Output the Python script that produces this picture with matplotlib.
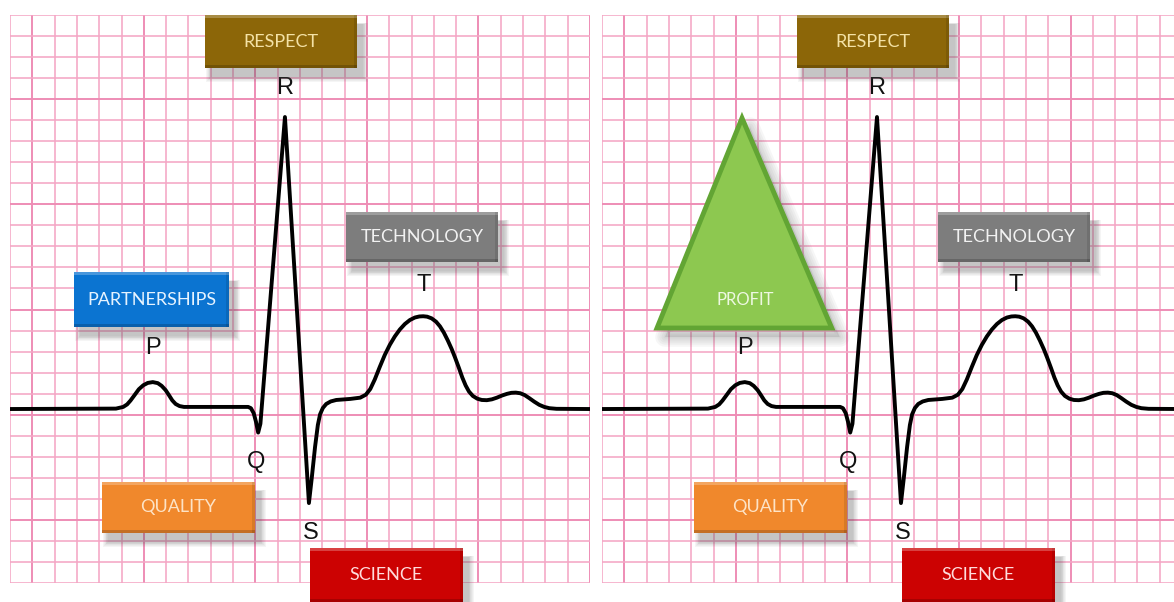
import matplotlib
matplotlib.use("Agg")
import matplotlib.pyplot as plt
from matplotlib.patches import Rectangle, Polygon
import numpy as np

# one heartbeat (time in s, amplitude in mV)
ecg_t = [0.000, 0.190, 0.203, 0.210, 0.216, 0.223, 0.231, 0.239, 0.247, 0.256,
         0.265, 0.272, 0.279, 0.285, 0.291, 0.297, 0.304, 0.312, 0.427, 0.432,
         0.437, 0.441, 0.445, 0.449, 0.493, 0.536, 0.541, 0.547, 0.552, 0.556,
         0.561, 0.567, 0.575, 0.585, 0.610, 0.628, 0.638, 0.646, 0.654, 0.663,
         0.672, 0.681, 0.690, 0.699, 0.708, 0.717, 0.726, 0.734, 0.741, 0.748,
         0.756, 0.764, 0.771, 0.778, 0.785, 0.792, 0.798, 0.805, 0.811, 0.817,
         0.823, 0.830, 0.838, 0.846, 0.855, 0.864, 0.873, 0.882, 0.891, 0.899,
         0.907, 0.915, 0.923, 0.931, 0.940, 0.949, 0.958, 0.967, 0.980, 1.040]
ecg_mv = [0.000, 0.002, 0.010, 0.022, 0.040, 0.065, 0.094, 0.113, 0.124, 0.128,
          0.123, 0.110, 0.090, 0.066, 0.041, 0.024, 0.014, 0.010, 0.010, 0.004,
          -0.020, -0.060, -0.112, -0.070, 1.388, -0.447, -0.330, -0.180, -0.076, -0.025,
          0.005, 0.024, 0.036, 0.043, 0.048, 0.054, 0.068, 0.095, 0.140, 0.200,
          0.257, 0.305, 0.345, 0.378, 0.404, 0.423, 0.435, 0.440, 0.441, 0.439,
          0.431, 0.415, 0.393, 0.363, 0.326, 0.285, 0.245, 0.195, 0.150, 0.112,
          0.083, 0.062, 0.049, 0.043, 0.042, 0.046, 0.054, 0.064, 0.072, 0.077,
          0.078, 0.075, 0.066, 0.052, 0.035, 0.020, 0.010, 0.004, 0.001, 0.000]

wave_letters = ["P", "Q", "R", "S", "T"]
letter_t = [0.256, 0.441, 0.493, 0.540, 0.742]
letter_mv = [0.290, -0.252, 1.526, -0.589, 0.589]

left_labels = ["RESPECT", "TECHNOLOGY", "PARTNERSHIPS", "QUALITY", "SCIENCE"]
right_labels = ["RESPECT", "TECHNOLOGY", "QUALITY", "SCIENCE"]
triangle_label = "PROFIT"

# layout of the label boxes (centre t, centre mV)
box_pos = {
    "RESPECT": (0.486, 1.747),
    "TECHNOLOGY": (0.739, 0.818),
    "PARTNERSHIPS": (0.254, 0.520),
    "QUALITY": (0.302, -0.468),
    "SCIENCE": (0.675, -0.789),
}
box_size = {
    "RESPECT": (0.2725, 0.252),
    "TECHNOLOGY": (0.2725, 0.238),
    "PARTNERSHIPS": (0.278, 0.261),
    "QUALITY": (0.274, 0.242),
    "SCIENCE": (0.274, 0.257),
}
box_colors = {
    "RESPECT": ("#8c6608", "#f4e2a6"),
    "TECHNOLOGY": ("#7d7d7d", "#f2f2f2"),
    "PARTNERSHIPS": ("#0b74d1", "#e6f3ff"),
    "QUALITY": ("#f0882c", "#fde3c6"),
    "SCIENCE": ("#cc0202", "#ffdcdc"),
}

PX_T = 0.001793   # one pixel in seconds
PX_MV = 0.004753  # one pixel in mV
Y0, Y1 = -0.827, 1.873

fig = plt.figure(figsize=(11.74, 6.02), dpi=100)
fig.patch.set_facecolor("white")
ax_left = fig.add_axes([10 / 1174, 19 / 602, 580 / 1174, 568 / 602])
ax_right = fig.add_axes([602 / 1174, 19 / 602, 572 / 1174, 568 / 602])


def draw_grid(ax, x1):
    ax.set_xlim(0, x1)
    ax.set_ylim(Y0, Y1)
    ax.axis("off")
    for i, x in enumerate(np.arange(0, x1 + 1e-6, 0.04)):
        major = i % 5 == 1
        ax.axvline(x, color="#ee8db5" if major else "#f4a6c5",
                   lw=1.4 if major else 1.15, zorder=1)
    for i, y in enumerate(np.arange(Y0, Y1 + 1e-6, 0.1)):
        major = i % 5 == 3
        ax.axhline(y, color="#ee8db5" if major else "#f4a6c5",
                   lw=1.4 if major else 1.15, zorder=1)


def shadow(ax, xy, w, h):
    for k in range(7):
        grow = k * 1.6
        ax.add_patch(Rectangle((xy[0] + (6 - grow / 2) * PX_T, xy[1] - (9 + grow / 2) * PX_MV),
                               w + grow * PX_T, h + grow * PX_MV * 0.6,
                               facecolor="#555555", alpha=0.055, lw=0,
                               zorder=4, clip_on=False))


def label_box(ax, name):
    cx, cy = box_pos[name]
    w, h = box_size[name]
    face, txt = box_colors[name]
    xy = (cx - w / 2, cy - h / 2)
    shadow(ax, xy, w, h)
    ax.add_patch(Rectangle(xy, w, h, facecolor=face, lw=0, zorder=5, clip_on=False))
    # bevel: light top edge, dark bottom edge
    ax.add_patch(Rectangle((xy[0], xy[1] + h - 3 * PX_MV), w, 3 * PX_MV,
                           facecolor="white", alpha=0.25, lw=0, zorder=6, clip_on=False))
    ax.add_patch(Rectangle(xy, w, 3 * PX_MV, facecolor="black", alpha=0.18,
                           lw=0, zorder=6, clip_on=False))
    ax.add_patch(Rectangle((xy[0] + w - 3 * PX_T, xy[1]), 3 * PX_T, h,
                           facecolor="black", alpha=0.10, lw=0, zorder=6, clip_on=False))
    ax.text(cx, cy, name, ha="center", va="center", color=txt,
            fontsize=13, family="Lato", zorder=7, clip_on=False)


def draw_panel(ax, x1, labels, with_triangle):
    draw_grid(ax, x1)
    ax.plot(ecg_t, ecg_mv, color="black", lw=2.8, zorder=3,
            solid_joinstyle="round", solid_capstyle="butt")
    for s, t, v in zip(wave_letters, letter_t, letter_mv):
        ax.text(t, v, s, ha="center", va="center", fontsize=17,
                family="Liberation Sans", color="#111111", zorder=3)
    for name in labels:
        label_box(ax, name)
    if with_triangle:
        tri = [(0.251, 1.383), (0.0986, 0.385), (0.412, 0.385)]
        shad = [(x + 8 * PX_T, y - 9 * PX_MV) for x, y in tri]
        for k in range(5):
            ax.add_patch(Polygon(shad, closed=True, facecolor="none",
                                 edgecolor="#555555", lw=2 + k * 3, alpha=0.05,
                                 zorder=4, joinstyle="round"))
        ax.add_patch(Polygon(shad, closed=True, facecolor="#555555", alpha=0.15,
                             lw=0, zorder=4))
        ax.add_patch(Polygon(tri, closed=True, facecolor="#8dc850",
                             edgecolor="#62a534", lw=3.5, zorder=5,
                             joinstyle="miter"))
        ax.text(0.256, 0.518, triangle_label, ha="center", va="center",
                color="#eef8e2", fontsize=12, family="Lato", zorder=7)


draw_panel(ax_left, 1.04, left_labels, False)
draw_panel(ax_right, 1.0255, right_labels, True)

fig.savefig("out.png", dpi=100)
